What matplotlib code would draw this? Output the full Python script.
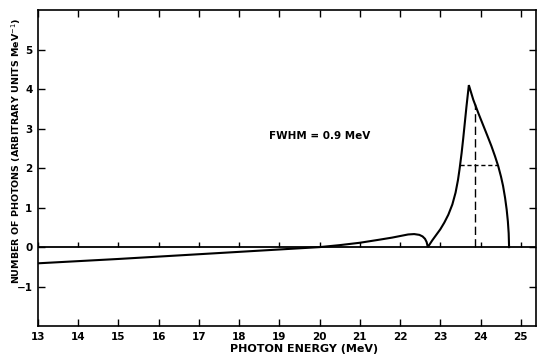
import numpy as np
import matplotlib.pyplot as plt

plt.rcParams['font.family'] = ['DejaVu Sans']

# spectrum (MeV, arbitrary units / MeV)
energy = [13.0, 14.0, 15.0, 16.0, 17.0, 18.0, 19.0, 20.0, 20.5, 21.0, 21.5,
          21.8, 22.0, 22.2, 22.35, 22.48, 22.56, 22.62, 22.66, 22.69,
          22.8, 22.9, 23.0, 23.1, 23.2, 23.3, 23.38, 23.44, 23.48, 23.53,
          23.57, 23.61, 23.65, 23.71,
          23.82, 23.95, 24.06, 24.17, 24.27, 24.36, 24.44, 24.51, 24.56,
          24.61, 24.65, 24.68, 24.70, 24.71]
photons = [-0.41, -0.355, -0.30, -0.24, -0.18, -0.12, -0.06, 0.0, 0.05, 0.11, 0.19,
           0.24, 0.28, 0.32, 0.33, 0.31, 0.27, 0.21, 0.13, 0.0,
           0.17, 0.31, 0.45, 0.62, 0.82, 1.08, 1.38, 1.70, 1.98, 2.38,
           2.75, 3.15, 3.55, 4.10,
           3.73, 3.38, 3.10, 2.82, 2.56, 2.30, 2.05, 1.78, 1.55,
           1.25, 0.95, 0.65, 0.35, 0.0]

xticks = list(range(13, 26))
yticks = list(range(-1, 6))

half_max = 2.07
fwhm_left, fwhm_right = 23.49, 24.43
centre_x, centre_top = 23.86, 3.62

fig = plt.figure(figsize=(5.38, 3.58), dpi=100)
ax = fig.add_axes([0.0706, 0.089, 0.925, 0.883])

ax.axhline(0, color='black', lw=1.3)
# little ticks standing on the zero line
ax.vlines(xticks, 0, 0.13, color='black', lw=1.0)

ax.plot(energy, photons, color='black', lw=1.5, solid_joinstyle='miter')
ax.plot([centre_x, centre_x], [0, centre_top], color='black', lw=1.0,
        ls=(0, (6, 3)))
ax.plot([fwhm_left, fwhm_right], [half_max, half_max], color='black', lw=1.0,
        ls=(0, (3, 2)))

ax.text(20.0, 2.82, 'FWHM = 0.9 MeV', ha='center', va='center',
        fontsize=7.5, weight='bold')

ax.set_xlim(13, 25.37)
ax.set_ylim(-2, 6)
ax.set_xticks(xticks)
ax.set_yticks(yticks)
ax.tick_params(direction='in', top=True, right=True, length=5, width=1,
               labelsize=7.5, pad=4)
for lab in ax.get_xticklabels() + ax.get_yticklabels():
    lab.set_fontweight('bold')
for s in ax.spines.values():
    s.set_linewidth(1.2)

ax.set_xlabel('PHOTON ENERGY (MeV)', fontsize=8, weight='bold')
ax.xaxis.set_label_coords(0.535, -0.058)
ax.set_ylabel('NUMBER OF PHOTONS (ARBITRARY UNITS MeV$^{-1}$)', fontsize=6.8,
              weight='bold', va='center')
ax.yaxis.set_label_coords(-0.043, 0.555)

plt.savefig('out.png', dpi=100)
